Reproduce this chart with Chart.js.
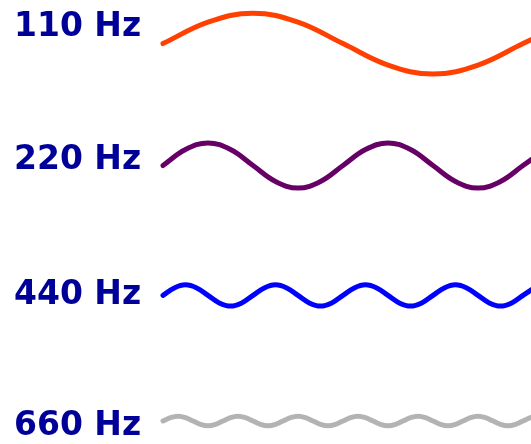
<!DOCTYPE html>
<html>
<head>
<meta charset="utf-8">
<script src="https://cdn.jsdelivr.net/npm/chart.js@4"></script>
<style>
  html, body { margin: 0; padding: 0; background: #fff; }
  #wrap { width: 531px; height: 444px; position: relative; }
</style>
</head>
<body>
<div id="wrap"><canvas id="waves"></canvas></div>
<script>
// Row labels
var toneLabels = ['110 Hz', '220 Hz', '440 Hz', '660 Hz'];

// Sample times (ms) and displacement (up = positive)
var t110 = [0, 1.136, 2.273, 3.409, 4.545, 5.682, 6.818, 7.955, 9.091, 10.227];
var v110 = [0, 21.5, 30.4, 21.5, 0, -21.5, -30.4, -21.5, 0, 21.5];

var t220 = [0, 0.568, 1.136, 1.705, 2.273, 2.841, 3.409, 3.977, 4.545,
            5.114, 5.682, 6.250, 6.818, 7.386, 7.955, 8.523, 9.091, 9.659];
var v220 = [0, 15.9, 22.5, 15.9, 0, -15.9, -22.5, -15.9, 0,
            15.9, 22.5, 15.9, 0, -15.9, -22.5, -15.9, 0, 15.9];

var t440 = [0, 0.284, 0.568, 0.852, 1.136, 1.420, 1.705, 1.989, 2.273,
            2.557, 2.841, 3.125, 3.409, 3.693, 3.977, 4.261, 4.545,
            4.830, 5.114, 5.398, 5.682, 5.966, 6.250, 6.534, 6.818,
            7.102, 7.386, 7.670, 7.955, 8.239, 8.523, 8.807, 9.091, 9.375];
var v440 = [0, 7.5, 10.6, 7.5, 0, -7.5, -10.6, -7.5, 0,
            7.5, 10.6, 7.5, 0, -7.5, -10.6, -7.5, 0,
            7.5, 10.6, 7.5, 0, -7.5, -10.6, -7.5, 0,
            7.5, 10.6, 7.5, 0, -7.5, -10.6, -7.5, 0, 7.5];

var t660 = [0, 0.189, 0.379, 0.568, 0.758, 0.947, 1.136, 1.326, 1.515,
            1.705, 1.894, 2.083, 2.273, 2.462, 2.652, 2.841, 3.030,
            3.220, 3.409, 3.598, 3.788, 3.977, 4.167, 4.356, 4.545,
            4.735, 4.924, 5.114, 5.303, 5.492, 5.682, 5.871, 6.061,
            6.250, 6.439, 6.629, 6.818, 7.008, 7.197, 7.386, 7.576,
            7.765, 7.955, 8.144, 8.333, 8.523, 8.712, 8.902, 9.091,
            9.280, 9.470];
var v660 = [0, 3.4, 4.8, 3.4, 0, -3.4, -4.8, -3.4, 0,
            3.4, 4.8, 3.4, 0, -3.4, -4.8, -3.4, 0,
            3.4, 4.8, 3.4, 0, -3.4, -4.8, -3.4, 0,
            3.4, 4.8, 3.4, 0, -3.4, -4.8, -3.4, 0,
            3.4, 4.8, 3.4, 0, -3.4, -4.8, -3.4, 0,
            3.4, 4.8, 3.4, 0, -3.4, -4.8, -3.4, 0,
            3.4, 4.8];

// layout: where each row sits on the vertical scale
var rowMid = [43.6, 165.5, 295.4, 421];
var labelPos = [27, 160.5, 295.5, 426.5];
var colors = ['#ff4000', '#660066', '#0000ff', '#b3b3b3'];
var plotLeft = 163, padLeft = 14;

function toPoints(ts, vs, mid) {
    return ts.map(function (t, i) { return { x: t, y: mid - vs[i] }; });
}

var series = [[t110, v110], [t220, v220], [t440, v440], [t660, v660]];
var datasets = series.map(function (s, i) {
    return {
        label: toneLabels[i],
        data: toPoints(s[0], s[1], rowMid[i]),
        borderColor: colors[i],
        clip: false
    };
});

var ctx = document.getElementById('waves').getContext('2d');
var chart = new Chart(ctx, {
    type: 'line',
    data: { datasets: datasets },
    options: {
        responsive: true,
        maintainAspectRatio: false,
        animation: false,
        layout: { padding: { left: padLeft, right: 0, top: 0, bottom: 0 } },
        plugins: { legend: { display: false }, tooltip: { enabled: false } },
        elements: {
            point: { radius: 0 },
            line: {
                borderWidth: 5,
                borderCapStyle: 'round',
                borderJoinStyle: 'round',
                tension: 0.4
            }
        },
        scales: {
            x: { type: 'linear', display: false, min: 0, max: 9.293 },
            y: {
                min: 0,
                max: 444,
                reverse: true,
                grid: { display: false },
                border: { display: false },
                afterBuildTicks: function (scale) {
                    scale.ticks = labelPos.map(function (v) { return { value: v }; });
                },
                afterFit: function (scale) {
                    scale.width = plotLeft - padLeft;
                    scale.paddingTop = 0;
                    scale.paddingBottom = 0;
                },
                ticks: {
                    autoSkip: false,
                    crossAlign: 'far',
                    color: '#000099',
                    font: { family: 'DejaVu Sans', size: 33, weight: 'bold' },
                    callback: function (value, index) { return toneLabels[index]; }
                }
            }
        }
    }
});
</script>
</body>
</html>
